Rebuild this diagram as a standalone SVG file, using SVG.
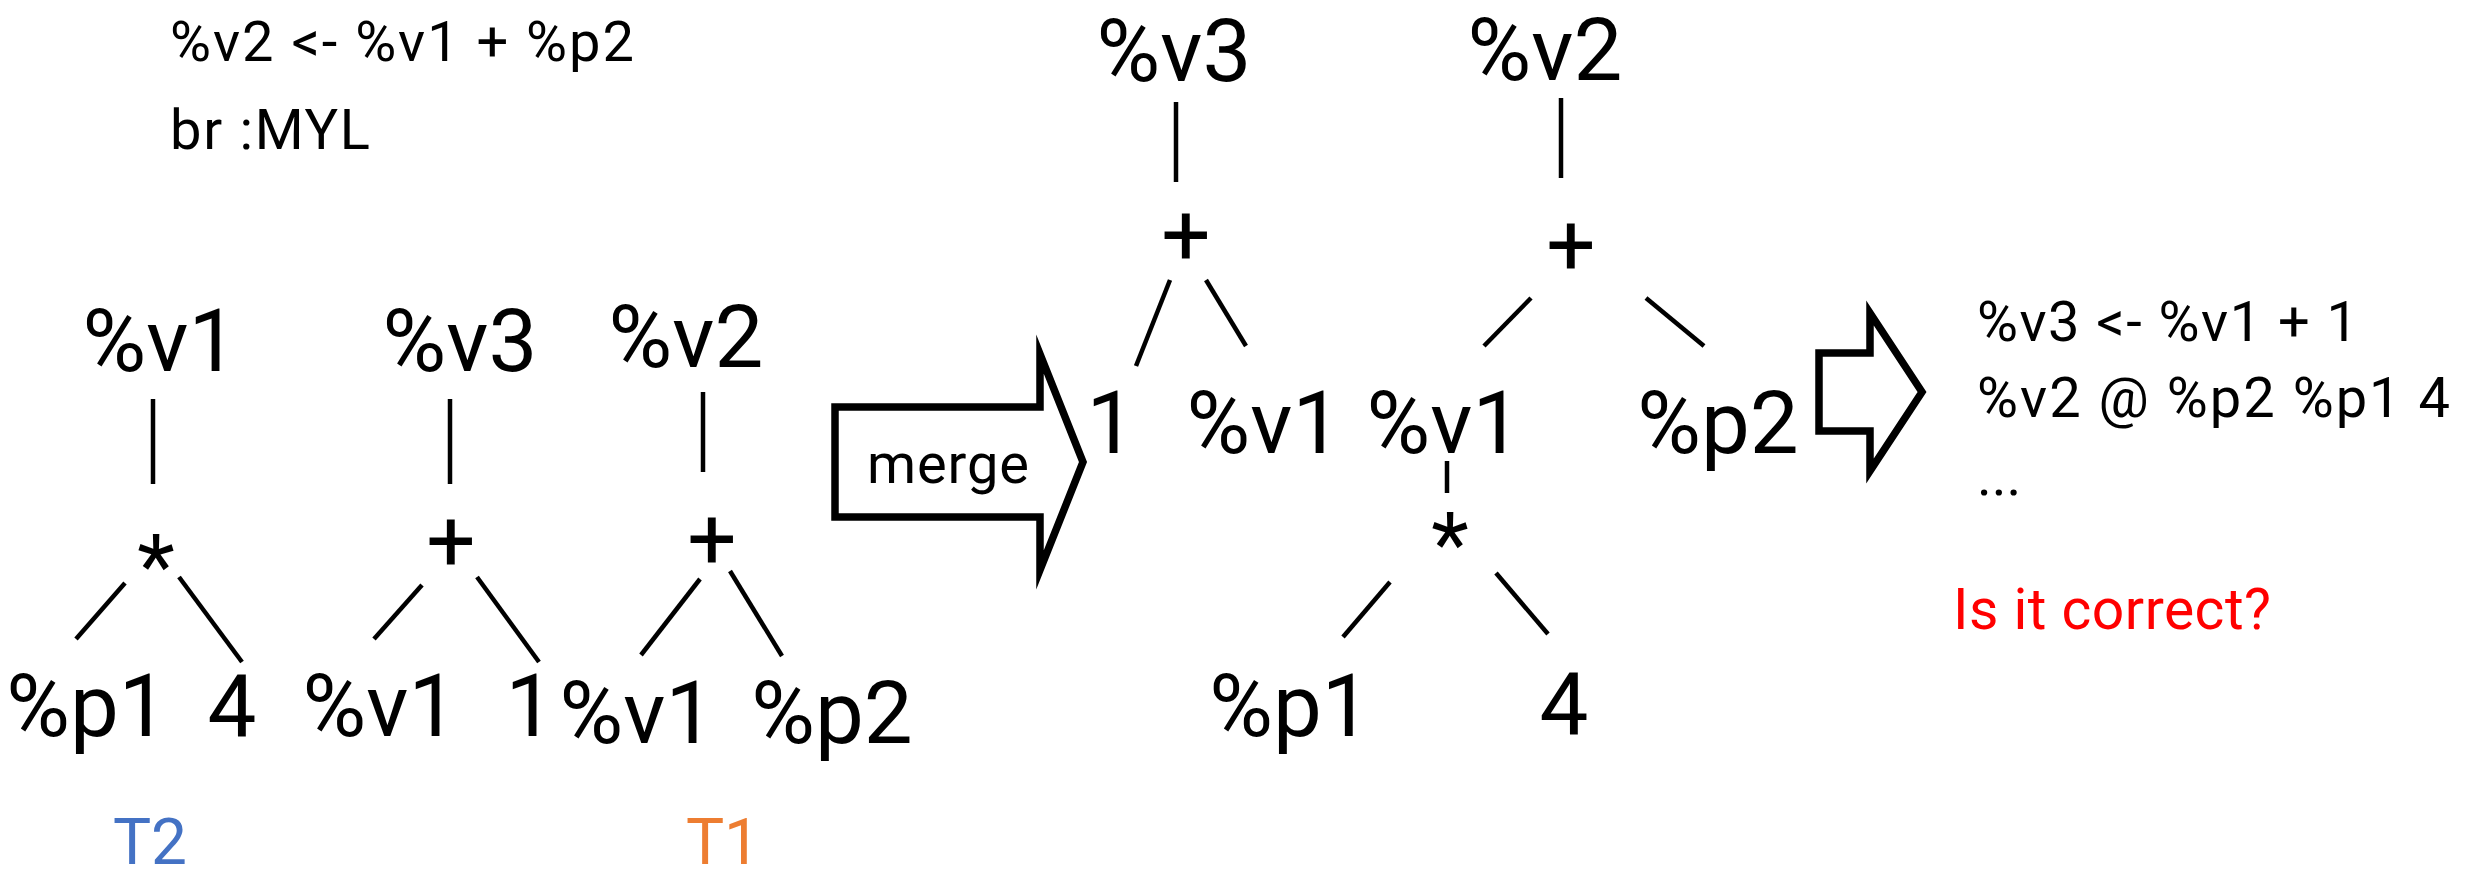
<svg xmlns="http://www.w3.org/2000/svg" width="2475" height="882" viewBox="0 0 2475 882">
<style>
  .big { font-family: Roboto, "Liberation Sans", sans-serif; font-size: 87px; fill: #000; text-anchor: middle; }
  .small { font-family: Roboto, "Liberation Sans", sans-serif; font-size: 56px; fill: #000; }
  .warn { font-family: Roboto, "Liberation Sans", sans-serif; font-size: 57px; fill: #FF0000; }
  .lbl { font-family: Roboto, "Liberation Sans", sans-serif; font-size: 64px; text-anchor: middle; }
  .t2 { fill: #4472C4; }
  .t1 { fill: #ED7D31; }
  .edge { stroke: #000; stroke-width: 4.5; fill: none; }
  .blk { stroke: #000; stroke-width: 7.5; fill: #fff; stroke-linejoin: miter; stroke-miterlimit: 10; }
</style>
<rect width="2475" height="882" fill="#fff"/>

<g id="code-top">
  <text class="small" x="170" y="61" textLength="464" lengthAdjust="spacing">%v2 &lt;- %v1 + %p2</text>
  <text class="small" x="170" y="149" textLength="200" lengthAdjust="spacing">br :MYL</text>
</g>

<g id="connectors">
  <!-- T2 tree -->
  <line class="edge" x1="153" y1="399" x2="153" y2="484"/>
  <line class="edge" x1="125" y1="583" x2="76" y2="639"/>
  <line class="edge" x1="179" y1="577" x2="242" y2="662"/>
  <!-- v3 tree -->
  <line class="edge" x1="450" y1="399" x2="450" y2="484"/>
  <line class="edge" x1="422" y1="585" x2="374" y2="639"/>
  <line class="edge" x1="477" y1="577" x2="539" y2="662"/>
  <!-- T1 tree -->
  <line class="edge" x1="703" y1="392" x2="703" y2="472"/>
  <line class="edge" x1="700" y1="579" x2="641" y2="655"/>
  <line class="edge" x1="730" y1="571" x2="782" y2="656"/>
  <!-- merged left -->
  <line class="edge" x1="1176" y1="102" x2="1176" y2="182"/>
  <line class="edge" x1="1170" y1="280" x2="1136" y2="366"/>
  <line class="edge" x1="1206" y1="280" x2="1246" y2="346"/>
  <!-- merged right -->
  <line class="edge" x1="1561" y1="98" x2="1561" y2="178"/>
  <line class="edge" x1="1531" y1="298" x2="1484" y2="346"/>
  <line class="edge" x1="1646" y1="298" x2="1704" y2="346"/>
  <line class="edge" x1="1447" y1="461" x2="1447" y2="493"/>
  <line class="edge" x1="1390" y1="582" x2="1343" y2="637"/>
  <line class="edge" x1="1496" y1="573" x2="1548" y2="634"/>
</g>

<g id="tree-T2">
  <text class="big" x="160" y="371">%v1</text>
  <text class="big" x="156" y="596">*</text>
  <text class="big" x="87" y="736">%p1</text>
  <text class="big" x="232" y="736">4</text>
</g>

<g id="tree-v3">
  <text class="big" x="460" y="371">%v3</text>
  <text class="big" x="451" y="571">+</text>
  <text class="big" x="380" y="736">%v1</text>
  <text class="big" x="530" y="736">1</text>
</g>

<g id="tree-T1">
  <text class="big" x="686" y="367">%v2</text>
  <text class="big" x="712" y="569">+</text>
  <text class="big" x="637" y="743">%v1</text>
  <text class="big" x="832" y="743">%p2</text>
</g>

<g id="label-T2">
  <text class="lbl t2" x="150" y="864">T2</text>
</g>
<g id="label-T1">
  <text class="lbl t1" x="723" y="864">T1</text>
</g>

<g id="merge-arrow">
  <polygon class="blk" points="835,407 1040,407 1040,354 1083,462 1040,570 1040,517 835,517"/>
  <text class="small" x="867" y="483" textLength="162" lengthAdjust="spacing">merge</text>
</g>

<g id="merged-v3">
  <text class="big" x="1174" y="81">%v3</text>
  <text class="big" x="1186" y="265">+</text>
  <text class="big" x="1111" y="453">1</text>
  <text class="big" x="1264" y="453">%v1</text>
</g>

<g id="merged-v2">
  <text class="big" x="1545" y="80">%v2</text>
  <text class="big" x="1571" y="275">+</text>
  <text class="big" x="1444" y="453">%v1</text>
  <text class="big" x="1718" y="453">%p2</text>
  <text class="big" x="1450" y="574">*</text>
  <text class="big" x="1290" y="736">%p1</text>
  <text class="big" x="1564" y="734">4</text>
</g>

<g id="result-arrow">
  <polygon class="blk" points="1819,353 1870,353 1870,313 1922,392 1870,471 1870,431 1819,431"/>
</g>

<g id="code-result">
  <text class="small" x="1977" y="341" textLength="381" lengthAdjust="spacing">%v3 &lt;- %v1 + 1</text>
  <text class="small" x="1977" y="417" textLength="473" lengthAdjust="spacing">%v2 @ %p2 %p1 4</text>
  <text class="small" x="1977" y="495">...</text>
  <text class="warn" x="1953" y="629" textLength="318" lengthAdjust="spacing">Is it correct?</text>
</g>
</svg>
